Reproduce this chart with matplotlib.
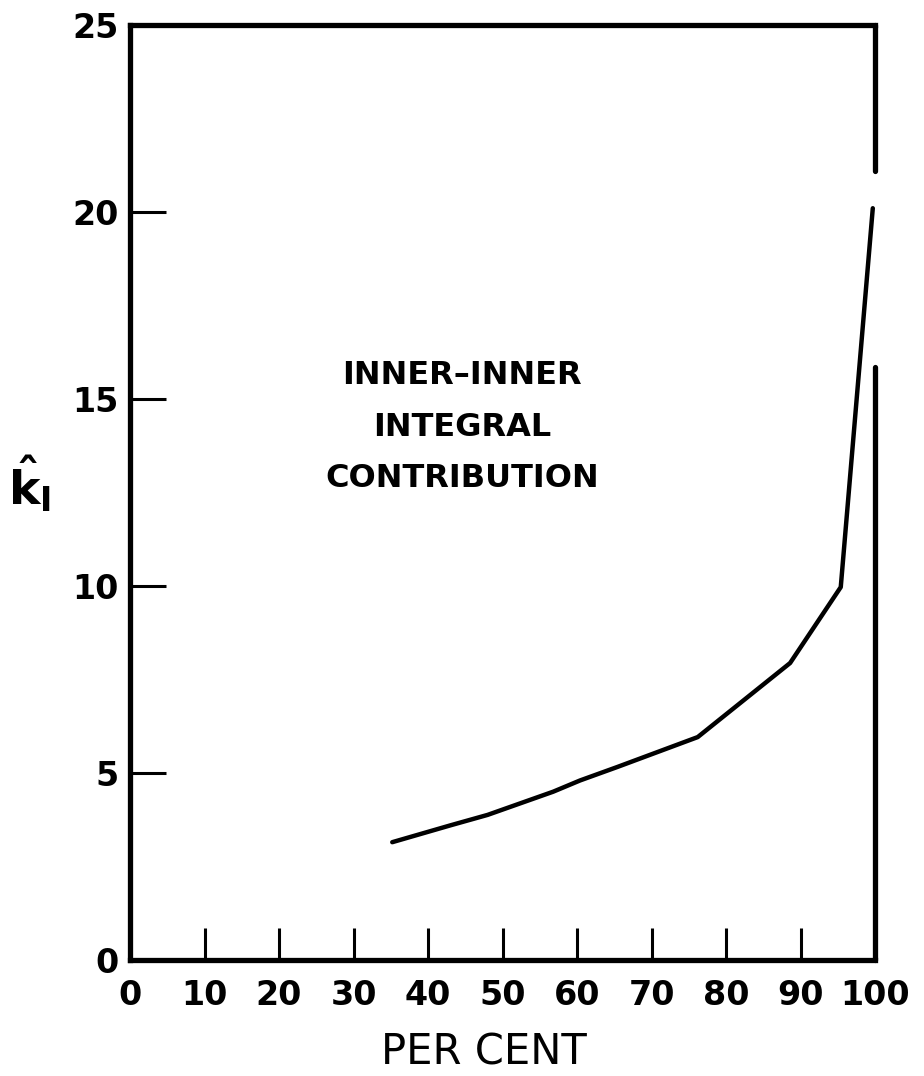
import matplotlib
matplotlib.use('Agg')
from matplotlib import pyplot as plt

# Curve
per_cent = [35.2, 43.0, 48.0, 56.8, 60.4, 65.4, 76.2, 88.6, 95.4, 99.7]
k_hat = [3.15, 3.6, 3.88, 4.5, 4.8, 5.16, 5.96, 7.94, 9.97, 20.1]

x_ticks = [0, 10, 20, 30, 40, 50, 60, 70, 80, 90, 100]
y_ticks = [0, 5, 10, 15, 20, 25]

# Right border is broken where the curve reaches it
right_gap = [15.85, 21.1]

plt.rcParams['font.family'] = ['DejaVu Sans']
plt.rcParams['font.weight'] = 'bold'
plt.rcParams['mathtext.fontset'] = 'dejavusans'
plt.rcParams['mathtext.default'] = 'bf'

fig = plt.figure(figsize=(9.24, 10.76), dpi=100)
ax = fig.add_axes([0.1407, 0.1078, 0.8063, 0.869])

ax.plot(per_cent, k_hat, color='black', lw=3.2, solid_capstyle='round',
        solid_joinstyle='round')

ax.set_xlim(0, 100)
ax.set_ylim(0, 25)

for side in ['left', 'bottom', 'top']:
    ax.spines[side].set_linewidth(3.8)
ax.spines['right'].set_visible(False)
ax.axvline(100, ymin=0, ymax=right_gap[0] / 25, color='black', lw=3.8,
           solid_capstyle='round', clip_on=False)
ax.axvline(100, ymin=right_gap[1] / 25, ymax=1, color='black', lw=3.8,
           solid_capstyle='round', clip_on=False)

ax.set_xticks(x_ticks)
ax.set_yticks(y_ticks)
ax.set_xticklabels([str(v) for v in x_ticks])
ax.set_yticklabels([str(v) for v in y_ticks])
ax.tick_params(axis='x', direction='in', length=23, width=2.2, pad=14,
               labelsize=24)
ax.tick_params(axis='y', direction='in', length=26, width=2.2, pad=8,
               labelsize=24)

ax.set_xlabel('PER CENT', fontsize=30, fontweight='normal')
ax.xaxis.set_label_coords(0.475, -0.076)
ax.set_ylabel(r'$\hat{\mathrm{k}}_{\mathrm{I}}$', fontsize=34, rotation=0)
ax.yaxis.set_label_coords(-0.135, 0.476)

ax.text(44.6, 14.25, 'INNER–INNER\nINTEGRAL\nCONTRIBUTION', ha='center',
        va='center', fontsize=23, linespacing=1.85)

fig.savefig('out.png', dpi=100)
